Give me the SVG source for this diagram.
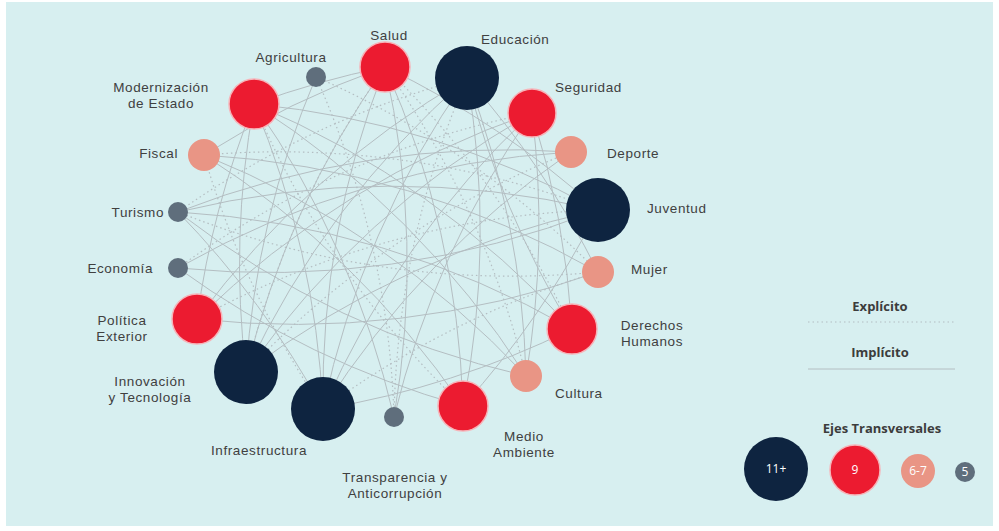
<svg xmlns="http://www.w3.org/2000/svg" width="999" height="531" viewBox="0 0 999 531">
<style>
.bg{fill:#d7eff0}
.e{fill:none;stroke:#b4bec2;stroke-width:1}
.d{fill:none;stroke:#b4bec2;stroke-width:1.2;stroke-dasharray:1.5 3}
.lbl{font-family:"Liberation Sans",Arial,sans-serif;font-size:13.5px;fill:#404040;letter-spacing:0.6px}
.leg{font-family:"Open Sans","Liberation Sans",sans-serif;font-size:13px;font-weight:bold;fill:#3c3c3c}
.num{font-family:"Open Sans","Liberation Sans",sans-serif;font-size:12px;fill:#ffffff;text-anchor:middle}
.navy{fill:#0e2440}
.red{fill:#ec1b30;stroke:#f7b3b8;stroke-width:1.5}
.sal{fill:#e99585}
.gray{fill:#5f6e7c}
</style>
<rect x="0" y="0" width="999" height="531" fill="#ffffff"/>
<rect class="bg" x="6" y="2" width="987" height="524"/>
<g id="connectors">
<path class="e" d="M254 104 A900 900 0 0 1 385 67"/>
<path class="e" d="M254 104 A900 900 0 0 0 246 372"/>
<path class="e" d="M254 104 A900 900 0 0 1 323 409"/>
<path class="e" d="M254 104 A900 900 0 0 1 394 417"/>
<path class="e" d="M254 104 A900 900 0 0 1 598 210"/>
<path class="e" d="M254 104 A900 900 0 0 1 572 329"/>
<path class="e" d="M254 104 A900 900 0 0 1 526 376"/>
<path class="e" d="M254 104 A900 900 0 0 0 197 319"/>
<path class="e" d="M385 67 A900 900 0 0 0 323 409"/>
<path class="e" d="M385 67 A900 900 0 0 1 394 417"/>
<path class="e" d="M385 67 A900 900 0 0 1 463 406"/>
<path class="e" d="M385 67 A900 900 0 0 0 246 372"/>
<path class="e" d="M385 67 A900 900 0 0 1 598 210"/>
<path class="e" d="M385 67 A900 900 0 0 0 204 155"/>
<path class="e" d="M467 78 A900 900 0 0 0 323 409"/>
<path class="e" d="M467 78 A900 900 0 0 1 463 406"/>
<path class="e" d="M467 78 A900 900 0 0 0 197 319"/>
<path class="e" d="M467 78 A900 900 0 0 1 526 376"/>
<path class="e" d="M467 78 A900 900 0 0 0 246 372"/>
<path class="e" d="M532 113 A900 900 0 0 0 246 372"/>
<path class="e" d="M532 113 A900 900 0 0 0 323 409"/>
<path class="e" d="M532 113 A900 900 0 0 0 197 319"/>
<path class="e" d="M532 113 A900 900 0 0 1 572 329"/>
<path class="e" d="M532 113 A900 900 0 0 0 394 417"/>
<path class="e" d="M571 152 A900 900 0 0 0 178 212"/>
<path class="e" d="M571 152 A900 900 0 0 0 323 409"/>
<path class="e" d="M571 152 A900 900 0 0 0 178 268"/>
<path class="e" d="M598 210 A900 900 0 0 0 178 212"/>
<path class="e" d="M598 210 A900 900 0 0 1 178 268"/>
<path class="e" d="M598 210 A900 900 0 0 0 246 372"/>
<path class="e" d="M598 272 A900 900 0 0 0 204 155"/>
<path class="e" d="M598 272 A900 900 0 0 1 197 319"/>
<path class="e" d="M598 272 A900 900 0 0 0 467 78"/>
<path class="e" d="M572 329 A900 900 0 0 0 178 212"/>
<path class="e" d="M572 329 A900 900 0 0 1 467 78"/>
<path class="e" d="M572 329 A900 900 0 0 1 323 409"/>
<path class="e" d="M526 376 A900 900 0 0 0 204 155"/>
<path class="e" d="M526 376 A900 900 0 0 1 178 212"/>
<path class="e" d="M526 376 A900 900 0 0 0 532 113"/>
<path class="e" d="M463 406 A900 900 0 0 0 204 155"/>
<path class="e" d="M463 406 A900 900 0 0 0 598 210"/>
<path class="e" d="M178 212 A900 900 0 0 1 323 409"/>
<path class="e" d="M178 268 A900 900 0 0 0 463 406"/>
<path class="e" d="M316 77 A900 900 0 0 0 246 372"/>
<path class="d" d="M385 67 A900 900 0 0 1 526 376"/>
<path class="d" d="M467 78 A900 900 0 0 0 394 417"/>
<path class="d" d="M532 113 A900 900 0 0 0 178 268"/>
<path class="d" d="M598 210 A900 900 0 0 0 197 319"/>
<path class="d" d="M254 104 A900 900 0 0 0 463 406"/>
<path class="d" d="M204 155 A900 900 0 0 1 598 210"/>
<path class="d" d="M316 77 A900 900 0 0 1 598 272"/>
<path class="d" d="M178 212 A900 900 0 0 0 598 272"/>
<path class="d" d="M246 372 A900 900 0 0 1 571 152"/>
<path class="d" d="M385 67 A900 900 0 0 1 572 329"/>
<path class="d" d="M467 78 A900 900 0 0 0 178 212"/>
<path class="d" d="M323 409 A900 900 0 0 1 598 272"/>
<path class="d" d="M316 77 A900 900 0 0 1 394 417"/>
<path class="d" d="M204 155 A900 900 0 0 0 323 409"/>
<path class="d" d="M246 372 A900 900 0 0 1 385 67"/>
</g>
<g id="n-salud"><circle class="red" cx="385" cy="67" r="25"/><text class="lbl" x="389" y="40" text-anchor="middle">Salud</text></g>
<g id="n-educacion"><circle class="navy" cx="467" cy="78" r="32"/><text class="lbl" x="481" y="44">Educación</text></g>
<g id="n-seguridad"><circle class="red" cx="532" cy="113" r="24"/><text class="lbl" x="555" y="92">Seguridad</text></g>
<g id="n-deporte"><circle class="sal" cx="571" cy="152" r="16"/><text class="lbl" x="607" y="158">Deporte</text></g>
<g id="n-juventud"><circle class="navy" cx="598" cy="210" r="32"/><text class="lbl" x="647" y="213">Juventud</text></g>
<g id="n-mujer"><circle class="sal" cx="598" cy="272" r="16"/><text class="lbl" x="631" y="274">Mujer</text></g>
<g id="n-ddhh"><circle class="red" cx="572" cy="329" r="25"/><text class="lbl" x="652" y="330" text-anchor="middle">Derechos</text><text class="lbl" x="652" y="345.5" text-anchor="middle">Humanos</text></g>
<g id="n-cultura"><circle class="sal" cx="526" cy="376" r="16"/><text class="lbl" x="555" y="398">Cultura</text></g>
<g id="n-medio"><circle class="red" cx="463" cy="406" r="25"/><text class="lbl" x="524" y="441" text-anchor="middle">Medio</text><text class="lbl" x="524" y="456.5" text-anchor="middle">Ambiente</text></g>
<g id="n-transparencia"><circle class="gray" cx="394" cy="417" r="10"/><text class="lbl" x="395" y="482" text-anchor="middle">Transparencia y</text><text class="lbl" x="395" y="497.5" text-anchor="middle">Anticorrupción</text></g>
<g id="n-infraestructura"><circle class="navy" cx="323" cy="409" r="32"/><text class="lbl" x="259" y="455" text-anchor="middle">Infraestructura</text></g>
<g id="n-innovacion"><circle class="navy" cx="246" cy="372" r="32"/><text class="lbl" x="150" y="386" text-anchor="middle">Innovación</text><text class="lbl" x="150" y="401.5" text-anchor="middle">y Tecnología</text></g>
<g id="n-politica"><circle class="red" cx="197" cy="319" r="25"/><text class="lbl" x="122" y="325" text-anchor="middle">Política</text><text class="lbl" x="122" y="340.5" text-anchor="middle">Exterior</text></g>
<g id="n-economia"><circle class="gray" cx="178" cy="268" r="10"/><text class="lbl" x="153" y="273" text-anchor="end">Economía</text></g>
<g id="n-turismo"><circle class="gray" cx="178" cy="212" r="10"/><text class="lbl" x="164" y="217" text-anchor="end">Turismo</text></g>
<g id="n-fiscal"><circle class="sal" cx="204" cy="155" r="16"/><text class="lbl" x="178" y="158" text-anchor="end">Fiscal</text></g>
<g id="n-modernizacion"><circle class="red" cx="254" cy="104" r="25"/><text class="lbl" x="161" y="92" text-anchor="middle">Modernización</text><text class="lbl" x="161" y="107.5" text-anchor="middle">de Estado</text></g>
<g id="n-agricultura"><circle class="gray" cx="316" cy="77" r="10"/><text class="lbl" x="291" y="62" text-anchor="middle">Agricultura</text></g>
<g id="legend">
<text class="leg" x="880" y="311" text-anchor="middle">Explícito</text>
<line class="d" x1="808" y1="322" x2="955" y2="322"/>
<text class="leg" x="880" y="357" text-anchor="middle">Implícito</text>
<line class="e" x1="808" y1="369" x2="955" y2="369"/>
<text class="leg" x="882" y="433" text-anchor="middle">Ejes Transversales</text>
<circle class="navy" cx="776" cy="469" r="32"/><text class="num" x="776" y="473">11+</text>
<circle class="red" cx="855" cy="470" r="25"/><text class="num" x="855" y="474">9</text>
<circle class="sal" cx="918" cy="471" r="17"/><text class="num" x="918" y="475">6-7</text>
<circle class="gray" cx="965" cy="472" r="10"/><text class="num" x="965" y="476">5</text>
</g>
</svg>
